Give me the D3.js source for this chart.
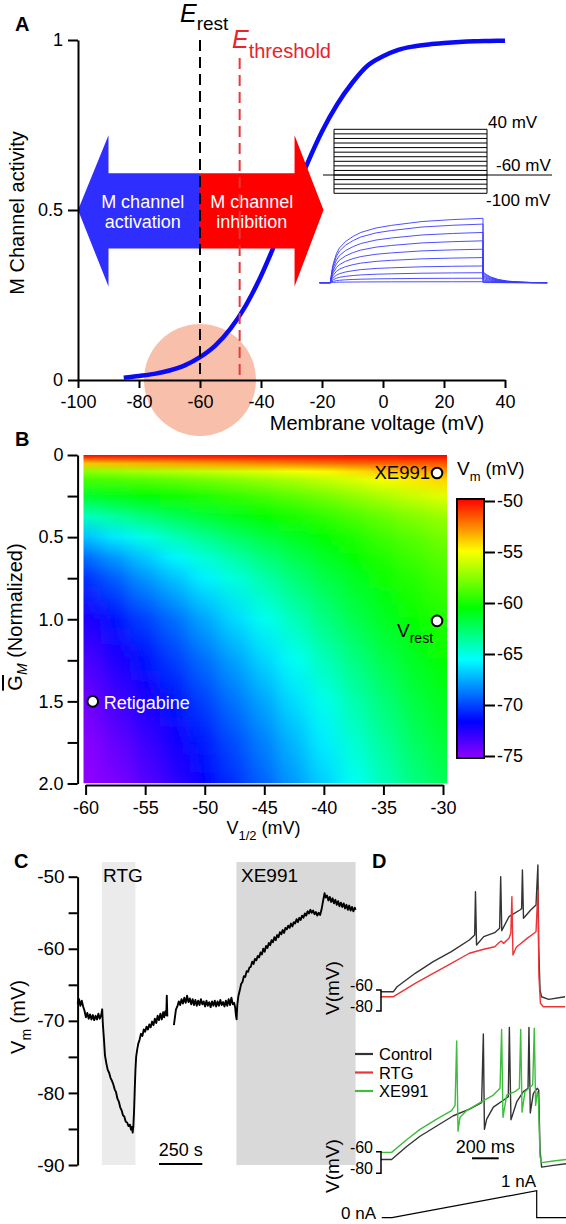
<!DOCTYPE html>
<html><head><meta charset="utf-8">
<script src="https://cdn.jsdelivr.net/npm/d3@7"></script>
<style>
body{margin:0;background:#fff}
svg{display:block}
</style></head><body>
<svg id="fig" width="566" height="1224"></svg>
<script>
// ================= DATA =================
// Panel A: M channel activation curve
const activityV   = [-85,-80,-75,-70,-65,-60,-55,-50,-45,-40,-35,-30,-25,-20,-15,-10,-5,0,5,10,15,20,25,30,35,40];
const activityVal = [0.007,0.012,0.018,0.028,0.043,0.067,0.101,0.151,0.219,0.306,0.41,0.523,0.633,0.731,0.811,0.875,0.925,0.952,0.971,0.981,0.987,0.991,0.994,0.996,0.997,0.998];
const aXTicks = [-100,-80,-60,-40,-20,0,20,40];
const aYTicks = [0,0.5,1];
const eRest = -60, eThreshold = -47;
// inset: voltage-step protocol (mV) and M-current traces
const stepLevels = [-100,-90,-80,-70,-60,-50,-40,-30,-20,-10,0,10,20,30,40];
const holdLevel = -60;
const currentAmps = [1.0,0.91,0.78,0.65,0.52,0.39,0.26,0.155,0.07,0.015];
const actShapeT = [0,5,10,20,30,50,75,100,150,200,300,400,500];
const actShapeF = [0,0.18,0.3,0.45,0.54,0.64,0.72,0.78,0.85,0.89,0.95,0.98,1.0];
const tailShapeT = [500,510,525,550,580,620,660,710];
const tailShapeF = [0.17,0.13,0.09,0.05,0.025,0.01,0.003,0];

// Panel B: simulated Vm (mV) vs V1/2 (columns) and normalized G_M (rows)
const gridV = [-60,-57.5,-55,-52.5,-50,-47.5,-45,-42.5,-40,-37.5,-35,-32.5,-30];
const gridG = [0,0.05,0.1,0.15,0.25,0.375,0.5,0.625,0.75,1.0,1.25,1.5,1.75,2.0];
const vmGrid = [
 [-50.0,-50.0,-50.0,-50.0,-50.0,-50.0,-50.0,-50.0,-50.0,-50.0,-50.0,-50.0,-50.0],
 [-53.8,-53.6,-53.4,-53.2,-53.0,-52.8,-52.6,-52.4,-52.2,-52.0,-51.9,-51.8,-51.7],
 [-57.5,-57.2,-56.9,-56.6,-56.3,-56.0,-55.7,-55.3,-54.9,-54.4,-53.9,-53.4,-53.0],
 [-59.0,-58.8,-58.6,-58.3,-58.0,-57.6,-57.2,-56.8,-56.3,-55.8,-55.2,-54.6,-54.2],
 [-61.4,-61.0,-60.6,-60.2,-59.8,-59.4,-59.0,-58.5,-58.0,-57.4,-56.8,-56.2,-55.6],
 [-64.3,-63.6,-62.9,-62.2,-61.6,-61.0,-60.5,-60.0,-59.5,-58.9,-58.3,-57.7,-57.2],
 [-67.0,-66.0,-65.0,-64.1,-63.3,-62.5,-61.8,-61.1,-60.5,-59.9,-59.2,-58.6,-58.0],
 [-69.0,-67.9,-66.8,-65.7,-64.7,-63.8,-62.9,-62.0,-61.2,-60.5,-59.8,-59.2,-58.6],
 [-70.4,-69.3,-68.0,-66.9,-65.8,-64.8,-63.8,-62.8,-61.9,-61.1,-60.3,-59.7,-59.1],
 [-72.2,-71.1,-70.0,-68.9,-67.6,-66.4,-65.2,-64.1,-63.0,-62.0,-61.1,-60.4,-59.8],
 [-73.3,-72.2,-71.2,-70.1,-68.9,-67.7,-66.5,-65.3,-64.1,-63.0,-62.0,-61.1,-60.4],
 [-74.2,-73.1,-72.1,-71.1,-70.0,-68.8,-67.6,-66.3,-65.1,-63.9,-62.8,-61.8,-61.0],
 [-74.8,-73.9,-72.9,-71.9,-70.9,-69.7,-68.5,-67.2,-65.9,-64.6,-63.5,-62.4,-61.6],
 [-75.3,-74.5,-73.6,-72.6,-71.6,-70.4,-69.2,-67.9,-66.6,-65.3,-64.1,-63.0,-62.2]
];
const bXTicks = [-60,-55,-50,-45,-40,-35,-30];
const bYTicks = [0,0.25,0.5,0.75,1,1.25,1.5,1.75,2];
const cbTicks = [-75,-70,-65,-60,-55,-50];
const cmapStops = [-75,-71.5,-65.5,-60.5,-55,-50];
const cmapColors = ["#9000ff","#0000ff","#00ffff","#00ff00","#ffff00","#ff0000"];
const markerNames = ["XE991","Vrest","Retigabine"];
const markerV = [-30.5,-30.5,-59.4];
const markerG = [0.11,1.01,1.5];

// Panel C: Vm recording (time s, mV); null marks the gap
const cTrace = [[0,-67.6],[8,-67.0],[16,-67.9],[24,-67.2],[32,-68.0],[40,-68.6],[48,-69.5],[56,-68.9],[64,-69.7],[72,-69.1],[80,-69.8],[88,-69.2],[96,-69.9],[104,-69.3],[112,-69.8],[120,-69.0],[128,-69.7],[136,-69.2],[142,-68.4],
[146,-70.5],[152,-72.5],[158,-74.8],[166,-75.9],[174,-76.8],[182,-77.2],[190,-77.9],[198,-78.3],[206,-78.8],[214,-79.5],[222,-79.9],[230,-80.8],[238,-81.2],[246,-82.0],[254,-82.4],[262,-83.1],[270,-83.3],[278,-84.0],[286,-84.1],[294,-84.6],[302,-84.4],[308,-85.1],[314,-84.7],[318,-85.5],[322,-84.6],[326,-82.5],[330,-79.5],[334,-76.8],[338,-75.0],[344,-74.0],[350,-73.2],[358,-72.6],[366,-71.8],[374,-72.1],[382,-71.2],[390,-71.5],[398,-70.8],[406,-71.2],[414,-70.5],[422,-70.9],[430,-70.1],[438,-70.6],[446,-69.7],[454,-70.3],[462,-69.3],[470,-69.9],[478,-69.0],[486,-69.8],[494,-68.8],[500,-69.5],[506,-68.7],[512,-69.2],[515,-66.5],[518,-69.4],
null,
[556,-70.6],[562,-69.5],[568,-68.4],[576,-68.0],[584,-67.3],[592,-67.8],[600,-67.0],[608,-67.6],[616,-66.8],[624,-67.5],[632,-66.5],[640,-67.4],[648,-66.9],[656,-67.7],[664,-67.0],[672,-67.8],[680,-67.1],[688,-67.9],[696,-67.2],[704,-67.8],[712,-67.0],[720,-67.7],[728,-67.3],[736,-68.0],[744,-67.2],[752,-67.9],[760,-67.4],[768,-68.1],[776,-67.3],[784,-67.9],[792,-67.2],[800,-68.0],[808,-67.3],[816,-67.9],[824,-67.1],[832,-67.8],[840,-67.4],[848,-68.0],[856,-67.2],[864,-67.9],[872,-67.0],[880,-67.8],[888,-66.8],[896,-67.7],[904,-67.5],[910,-68.2],[914,-69.2],[918,-69.8],[922,-67.8],[928,-66.6],[936,-65.8],[944,-64.9],[952,-64.6],[960,-63.8],[968,-63.9],[976,-63.1],[984,-63.2],[992,-62.6],[1000,-62.5],[1008,-61.8],[1016,-62.1],[1024,-61.4],[1032,-61.6],[1040,-61.0],[1048,-61.2],[1056,-60.5],[1064,-60.8],[1072,-60.0],[1080,-60.4],[1088,-59.6],[1096,-59.9],[1104,-59.2],[1112,-59.5],[1120,-58.8],[1128,-59.1],[1136,-58.4],[1144,-58.8],[1152,-58.1],[1160,-58.4],[1168,-57.7],[1176,-58.0],[1184,-57.4],[1192,-57.8],[1200,-57.1],[1208,-57.3],[1216,-56.8],[1224,-57.1],[1232,-56.5],[1240,-56.9],[1248,-56.3],[1256,-56.5],[1264,-55.9],[1272,-56.3],[1280,-55.7],[1288,-56.0],[1296,-55.4],[1304,-55.7],[1312,-55.1],[1320,-55.4],[1328,-54.8],[1336,-55.1],[1344,-54.6],[1352,-55.0],[1360,-54.7],[1368,-55.2],[1376,-54.9],[1384,-55.4],[1392,-55.0],[1400,-55.3],[1408,-54.6],[1414,-53.8],[1420,-53.0],[1426,-52.3],[1432,-52.9],[1440,-52.6],[1448,-53.3],[1456,-52.8],[1464,-53.5],[1472,-53.0],[1480,-53.7],[1488,-53.2],[1496,-53.9],[1504,-53.4],[1512,-54.1],[1520,-53.6],[1528,-54.2],[1536,-53.7],[1544,-54.4],[1552,-53.9],[1560,-54.6],[1568,-54.0],[1576,-54.7],[1584,-54.2],[1592,-54.8],[1600,-54.3],[1605,-54.6]];
const cYTicks = [-90,-85,-80,-75,-70,-65,-60,-55,-50];
const rtgBand = [140,334];
const xeBand = [917,1605];
const cScaleBar = [470,720];

// Panel D: ramp responses (time ms, mV)
const ctrlTop = [[7,-61.6],[101,-61.6],[128,-56.9],[264,-44.1],[399,-33],[535,-23.5],[670,-12.4],[710,-7.6],[716,33.6],[724,-17.1],[778,-9.2],[860,-5.4],[897,-1.2],[905,47.9],[913,-3.5],[967,9.8],[1049,16.2],[1062,17.5],[1068,54.3],[1076,8.3],[1130,16.2],[1170,21],[1184,59],[1190,-18.8],[1200,-60],[1211,-66.4],[1265,-68.9],[1388,-66.4]];
const rtgTop = [[7,-66.4],[101,-66.4],[264,-53.6],[399,-44.1],[535,-34.6],[670,-25],[778,-21.2],[860,-18.8],[892,-15],[908,-13.3],[927,-15.6],[967,-10.8],[981,-6],[989,28.9],[997,-26.7],[1022,-19.3],[1103,-10.8],[1170,-4.5],[1184,35.2],[1192,-47.3],[1203,-72.7],[1225,-75.9],[1388,-75.9]];
const ctrlBot = [[7,-67.2],[87,-67.2],[200,-55.2],[300,-45.7],[425,-36.2],[550,-26.7],[675,-20.3],[762,-14.6],[775,49],[783,-39.3],[800,-29.8],[850,-18.7],[925,-12.4],[962,-9.1],[970,55],[982,-30.5],[1025,-13.9],[1075,-4.4],[1110,-1.3],[1117,55],[1127,-24.1],[1150,-6],[1180,-1.3],[1190,-3],[1200,-58.4],[1212,-74.3],[1300,-72.7],[1400,-71]];
const xeBot = [[7,-60.6],[87,-60.6],[200,-48.9],[300,-39.3],[425,-29.8],[537,-21.9],[563,-17.1],[575,42.6],[585,-41],[600,-28.2],[650,-21.9],[750,-14.6],[850,-7.6],[900,-1.3],[912,53.3],[922,-28.2],[950,-7.6],[1012,-4.4],[1045,-1.3],[1055,53.3],[1065,-23.4],[1087,-4.4],[1145,1.9],[1157,54.3],[1167,-17.1],[1180,-4.4],[1187,-8],[1200,-64.8],[1212,-70.1],[1300,-68.6],[1400,-67.2]];
const stimI = [[13,0],[90,0],[1175,1],[1175,0],[1400,0]];
const dLegend = ["Control","RTG","XE991"];
const dColors = ["#333333","#ec3434","#3cbd3c"];
const dScaleBar = [690,890];

// ================= DRAW =================
const FONT = '"Liberation Sans", Arial, Helvetica, sans-serif';
const svg = d3.select("#fig").attr("font-family", FONT);
const defs = svg.append("defs");

function styleAxis(g, fs){
  g.attr("font-family", FONT);
  g.selectAll("path.domain").attr("stroke","#000").attr("stroke-width",2);
  g.selectAll(".tick line").attr("stroke","#000").attr("stroke-width",2);
  g.selectAll(".tick text").attr("font-size",fs).attr("fill","#000");
}
function panelLabel(x,y,s){
  svg.append("text").attr("x",x).attr("y",y).attr("font-size",20).attr("font-weight","bold").text(s);
}

// ---------- Panel A ----------
const xA = d3.scaleLinear([-100,40],[78,505]);
const yA = d3.scaleLinear([0,1],[380,40]);
panelLabel(15,31,"A");

svg.append("circle").attr("cx",xA(eRest)).attr("cy",yA(0)).attr("r",56).attr("fill","#f8c0aa");

const actData = activityV.map((v,i)=>[v,activityVal[i]]);
svg.append("path").datum(actData)
  .attr("d", d3.line().x(d=>xA(d[0])).y(d=>yA(d[1])).curve(d3.curveMonotoneX))
  .attr("fill","none").attr("stroke","#0a0af5").attr("stroke-width",4.5).attr("stroke-linecap","butt");

// arrows
const headTop = 0.72, headBot = 0.275, shaftTop = 0.608, shaftBot = 0.387;
const blueArrow = [[-100,0.5],[-90,headTop],[-90,shaftTop],[eRest,shaftTop],[eRest,shaftBot],[-90,shaftBot],[-90,headBot]];
const redArrow = [[eRest,shaftTop],[-29,shaftTop],[-29,headTop],[-19.5,0.5],[-29,headBot],[-29,shaftBot],[eRest,shaftBot]];
const poly = d3.line().x(d=>xA(d[0])).y(d=>yA(d[1]));
svg.append("path").attr("d",poly(blueArrow)+"Z").attr("fill","#2e2eff");
svg.append("path").attr("d",poly(redArrow)+"Z").attr("fill","#ff0000");
[["M channel","activation",-78.8],["M channel","inhibition",-43]].forEach(([a,b,v])=>{
  const t = svg.append("text").attr("text-anchor","middle").attr("font-size",18).attr("fill","#fff");
  t.append("tspan").attr("x",xA(v)).attr("y",208).text(a);
  t.append("tspan").attr("x",xA(v)).attr("y",228).text(b);
});

// dashed lines
svg.append("line").attr("x1",xA(eRest)).attr("x2",xA(eRest)).attr("y1",yA(1)).attr("y2",yA(0))
  .attr("stroke","#000").attr("stroke-width",2).attr("stroke-dasharray","11,6");
svg.append("line").attr("x1",xA(eThreshold)).attr("x2",xA(eThreshold)).attr("y1",58).attr("y2",yA(0))
  .attr("stroke","#e8383a").attr("stroke-width",2).attr("stroke-dasharray","11,6");

// labels E_rest / E_threshold
let t1 = svg.append("text").attr("x",180).attr("y",22);
t1.append("tspan").attr("font-size",25).attr("font-style","italic").text("E");
t1.append("tspan").attr("font-size",19).attr("dy",8).text("rest");
let t2 = svg.append("text").attr("x",232).attr("y",48).attr("fill","#e8232b");
t2.append("tspan").attr("font-size",25).attr("font-style","italic").text("E");
t2.append("tspan").attr("font-size",20).attr("dy",10).text("threshold");

// axes A
const axAx = svg.append("g").attr("transform",`translate(0,${yA(0)})`)
  .call(d3.axisBottom(xA).tickValues(aXTicks).tickSize(8).tickPadding(7).tickSizeOuter(0).tickFormat(d=>String(d)));
styleAxis(axAx,18);
const axAy = svg.append("g").attr("transform",`translate(${xA(-100)},0)`)
  .call(d3.axisLeft(yA).tickValues(aYTicks).tickSize(10).tickPadding(5).tickSizeOuter(0).tickFormat(d=>String(d)));
styleAxis(axAy,18);
svg.append("text").attr("x",377).attr("y",430).attr("text-anchor","middle").attr("font-size",20).text("Membrane voltage (mV)");
svg.append("text").attr("transform","translate(24,213) rotate(-90)").attr("text-anchor","middle").attr("font-size",20).text("M Channel activity");

// inset: step protocol
const stepY = d3.scaleLinear([-100,40],[193.3,129.3]);
stepLevels.forEach(l=>{
  svg.append("line").attr("x1",334).attr("x2",487).attr("y1",stepY(l)).attr("y2",stepY(l)).attr("stroke","#000").attr("stroke-width",1);
});
[334,487].forEach(x=>svg.append("line").attr("x1",x).attr("x2",x).attr("y1",stepY(-100)).attr("y2",stepY(40)).attr("stroke","#000").attr("stroke-width",1));
svg.append("line").attr("x1",323).attr("x2",552).attr("y1",stepY(holdLevel)).attr("y2",stepY(holdLevel)).attr("stroke","#000").attr("stroke-width",1);
svg.append("text").attr("x",488).attr("y",128).attr("font-size",17).text("40 mV");
svg.append("text").attr("x",496).attr("y",171).attr("font-size",17).text("-60 mV");
svg.append("text").attr("x",486).attr("y",206).attr("font-size",17).text("-100 mV");

// inset: current traces
const tIn = d3.scaleLinear([0,500],[330.3,483]);
const aIn = d3.scaleLinear([0,1],[282.7,218.3]);
currentAmps.forEach(a=>{
  const pts = [[-35,0],[0,0]];
  actShapeT.forEach((t,k)=>pts.push([t,a*actShapeF[k]]));
  tailShapeT.forEach((t,k)=>pts.push([t,a*tailShapeF[k]]));
  svg.append("path").attr("d",d3.line().x(d=>tIn(d[0])).y(d=>aIn(d[1]))(pts))
    .attr("fill","none").attr("stroke","#3b3bff").attr("stroke-width",0.9);
});

// ---------- Panel B ----------
panelLabel(15,446,"B");
const xB = d3.scaleLinear([-60,-30],[85.6,443]);
const yB = d3.scaleLinear([0,2],[455,783.5]);
const vmColor = d3.scaleLinear(cmapStops,cmapColors).clamp(true);

defs.append("clipPath").attr("id","hmClip").append("rect")
  .attr("x",83.5).attr("y",455).attr("width",447-83.5).attr("height",783.5-455);
const blur = defs.append("filter").attr("id","hmBlur").attr("filterUnits","userSpaceOnUse")
  .attr("x",0).attr("y",430).attr("width",566).attr("height",380);
blur.append("feGaussianBlur").attr("stdDeviation","10 0.1");
const hmOuter = svg.append("g").attr("clip-path","url(#hmClip)");
const hmInner = hmOuter.append("g").attr("filter","url(#hmBlur)");
gridV.forEach((v,j)=>{
  const lg = defs.append("linearGradient").attr("id","col"+j).attr("x1",0).attr("y1",0).attr("x2",0).attr("y2",1);
  gridG.forEach((g,i)=>{
    lg.append("stop").attr("offset",(yB(g)-yB(0))/(yB(2)-yB(0))).attr("stop-color",vmColor(vmGrid[i][j]));
  });
  const x0 = j===0 ? xB(v)-50 : (xB(gridV[j-1])+xB(v))/2;
  const x1 = j===gridV.length-1 ? xB(v)+50 : (xB(v)+xB(gridV[j+1]))/2;
  hmInner.append("rect").attr("x",x0).attr("y",yB(0)).attr("width",x1-x0+0.5).attr("height",yB(2)-yB(0))
    .attr("fill",`url(#col${j})`);
});

const axBy = svg.append("g").attr("transform","translate(77.6,0)")
  .call(d3.axisLeft(yB).tickValues(bYTicks).tickSize(10).tickPadding(4).tickSizeOuter(0)
    .tickFormat(d=> d===0 ? "0" : (Math.abs(d*2-Math.round(d*2))<1e-9 ? d.toFixed(1) : "")));
styleAxis(axBy,18);
const axBx = svg.append("g").attr("transform","translate(0,785)")
  .call(d3.axisBottom(xB).tickValues(bXTicks).tickSize(10).tickPadding(6).tickSizeOuter(0).tickFormat(d=>String(d)));
styleAxis(axBx,18);

let bxl = svg.append("text").attr("x",226.5).attr("y",834).attr("font-size",18);
bxl.append("tspan").text("V");
bxl.append("tspan").attr("font-size",13).attr("dy",6).text("1/2");
bxl.append("tspan").attr("dy",-6).text(" (mV)");
let byl = svg.append("text").attr("transform","translate(22,617) rotate(-90)").attr("text-anchor","middle").attr("font-size",20);
byl.append("tspan").style("text-decoration","overline").text("G");
byl.append("tspan").attr("font-size",14).attr("font-style","italic").attr("dy",5).text("M");
byl.append("tspan").attr("dy",-5).text(" (Normalized)");

// markers
markerNames.forEach((n,i)=>{
  svg.append("circle").attr("cx",xB(markerV[i])).attr("cy",yB(markerG[i])).attr("r",5.3)
    .attr("fill","#fff").attr("stroke","#000").attr("stroke-width",2);
});
svg.append("text").attr("x",xB(markerV[0])-7).attr("y",479).attr("text-anchor","end").attr("font-size",18.5).text(markerNames[0]);
let vr = svg.append("text").attr("x",397).attr("y",637).attr("font-size",19);
vr.append("tspan").text("V");
vr.append("tspan").attr("font-size",14).attr("dy",6).text("rest");
svg.append("text").attr("x",xB(markerV[2])+11).attr("y",709).attr("font-size",18).attr("fill","#fff").text(markerNames[2]);

// colorbar
const cbY = d3.scaleLinear([-75,-50],[756,501]);
const cbg = defs.append("linearGradient").attr("id","cbGrad").attr("x1",0).attr("y1",1).attr("x2",0).attr("y2",0);
cmapStops.forEach((s,i)=>cbg.append("stop").attr("offset",(s+75)/25).attr("stop-color",cmapColors[i]));
svg.append("rect").attr("x",457).attr("y",499).attr("width",27).attr("height",259)
  .attr("fill","url(#cbGrad)").attr("stroke","#000").attr("stroke-width",2);
const axCb = svg.append("g").attr("transform","translate(484,0)")
  .call(d3.axisRight(cbY).tickValues(cbTicks).tickSize(11).tickPadding(2).tickSizeOuter(0).tickFormat(d=>String(d)));
styleAxis(axCb,18);
axCb.select("path.domain").remove();
let cbt = svg.append("text").attr("x",457).attr("y",475).attr("font-size",19);
cbt.append("tspan").text("V");
cbt.append("tspan").attr("font-size",13).attr("dy",6).text("m");
cbt.append("tspan").attr("font-size",18).attr("dy",-6).text(" (mV)");

// ---------- Panel C ----------
panelLabel(14,868,"C");
const xC = d3.scaleLinear([0,1605],[77.6,355.6]);
const yC = d3.scaleLinear([-90,-50],[1165,876.7]);
svg.append("rect").attr("x",xC(rtgBand[0])).attr("y",862).attr("width",xC(rtgBand[1])-xC(rtgBand[0])).attr("height",1165-862).attr("fill","#ebebeb");
svg.append("rect").attr("x",xC(xeBand[0])).attr("y",862).attr("width",xC(xeBand[1])-xC(xeBand[0])).attr("height",1165-862).attr("fill","#d9d9d9");
svg.append("text").attr("x",103).attr("y",882).attr("font-size",19).text("RTG");
svg.append("text").attr("x",241).attr("y",882).attr("font-size",19).text("XE991");
svg.append("path").datum(cTrace)
  .attr("d",d3.line().defined(d=>d!==null).x(d=>xC(d[0])).y(d=>yC(d[1])))
  .attr("fill","none").attr("stroke","#000").attr("stroke-width",1.9).attr("stroke-linejoin","round");
const axCy = svg.append("g").attr("transform","translate(77.6,0)")
  .call(d3.axisLeft(yC).tickValues(cYTicks).tickSize(9).tickPadding(4).tickSizeOuter(0).tickFormat(d=> d%10===0?String(d):""));
styleAxis(axCy,19);
let cyl = svg.append("text").attr("transform","translate(25,1017) rotate(-90)").attr("text-anchor","middle").attr("font-size",20);
cyl.append("tspan").text("V");
cyl.append("tspan").attr("font-size",14).attr("dy",6).text("m");
cyl.append("tspan").attr("dy",-6).text(" (mV)");
svg.append("line").attr("x1",xC(cScaleBar[0])).attr("x2",xC(cScaleBar[1])).attr("y1",1164).attr("y2",1164).attr("stroke","#000").attr("stroke-width",2);
svg.append("text").attr("x",(xC(cScaleBar[0])+xC(cScaleBar[1]))/2).attr("y",1156).attr("text-anchor","middle").attr("font-size",18).text("250 s");

// ---------- Panel D ----------
panelLabel(372,868,"D");
const xD = d3.scaleLinear([0,1400],[380,566.7]);
const yDt = d3.scaleLinear([-80,-60],[1011,990]);
const yDb = d3.scaleLinear([-80,-60],[1173.3,1151.7]);
const yI = d3.scaleLinear([0,1],[1217.7,1190.7]);
function trace(data, ys, color){
  svg.append("path").attr("d",d3.line().x(d=>xD(d[0])).y(d=>ys(d[1]))(data))
    .attr("fill","none").attr("stroke",color).attr("stroke-width",1.4).attr("stroke-linejoin","round");
}
trace(ctrlTop,yDt,dColors[0]);
trace(rtgTop,yDt,dColors[1]);
trace(ctrlBot,yDb,dColors[0]);
trace(xeBot,yDb,dColors[2]);
// brackets and V labels
[[yDt,988],[yDb,1166]].forEach(([ys,cy])=>{
  const p = `M376,${ys(-60)}H381V${ys(-80)}H376`;
  svg.append("path").attr("d",p).attr("fill","none").attr("stroke","#000").attr("stroke-width",1.5);
  svg.append("text").attr("x",373).attr("y",ys(-60)+1).attr("text-anchor","end").attr("font-size",16).text("-60");
  svg.append("text").attr("x",373).attr("y",ys(-80)+1).attr("text-anchor","end").attr("font-size",16).text("-80");
  svg.append("text").attr("transform",`translate(339,${cy}) rotate(-90)`).attr("text-anchor","middle").attr("font-size",19).text("V(mV)");
});
// legend
dLegend.forEach((n,i)=>{
  const y = [1054,1072.5,1091][i];
  svg.append("line").attr("x1",355).attr("x2",373).attr("y1",y).attr("y2",y).attr("stroke",dColors[i]).attr("stroke-width",2.2);
  svg.append("text").attr("x",379).attr("y",y+6).attr("font-size",16.5).text(n);
});
// scale bar 200 ms
svg.append("line").attr("x1",xD(dScaleBar[0])).attr("x2",xD(dScaleBar[1])).attr("y1",1158.3).attr("y2",1158.3).attr("stroke","#000").attr("stroke-width",2);
svg.append("text").attr("x",(xD(dScaleBar[0])+xD(dScaleBar[1]))/2).attr("y",1153).attr("text-anchor","middle").attr("font-size",18).text("200 ms");
// stimulus
svg.append("path").attr("d",d3.line().x(d=>xD(d[0])).y(d=>yI(d[1]))(stimI)).attr("fill","none").attr("stroke","#000").attr("stroke-width",1.2);
svg.append("text").attr("x",376).attr("y",1219).attr("text-anchor","end").attr("font-size",17).text("0 nA");
svg.append("text").attr("x",536).attr("y",1187).attr("text-anchor","end").attr("font-size",17).text("1 nA");
</script>
</body></html>
